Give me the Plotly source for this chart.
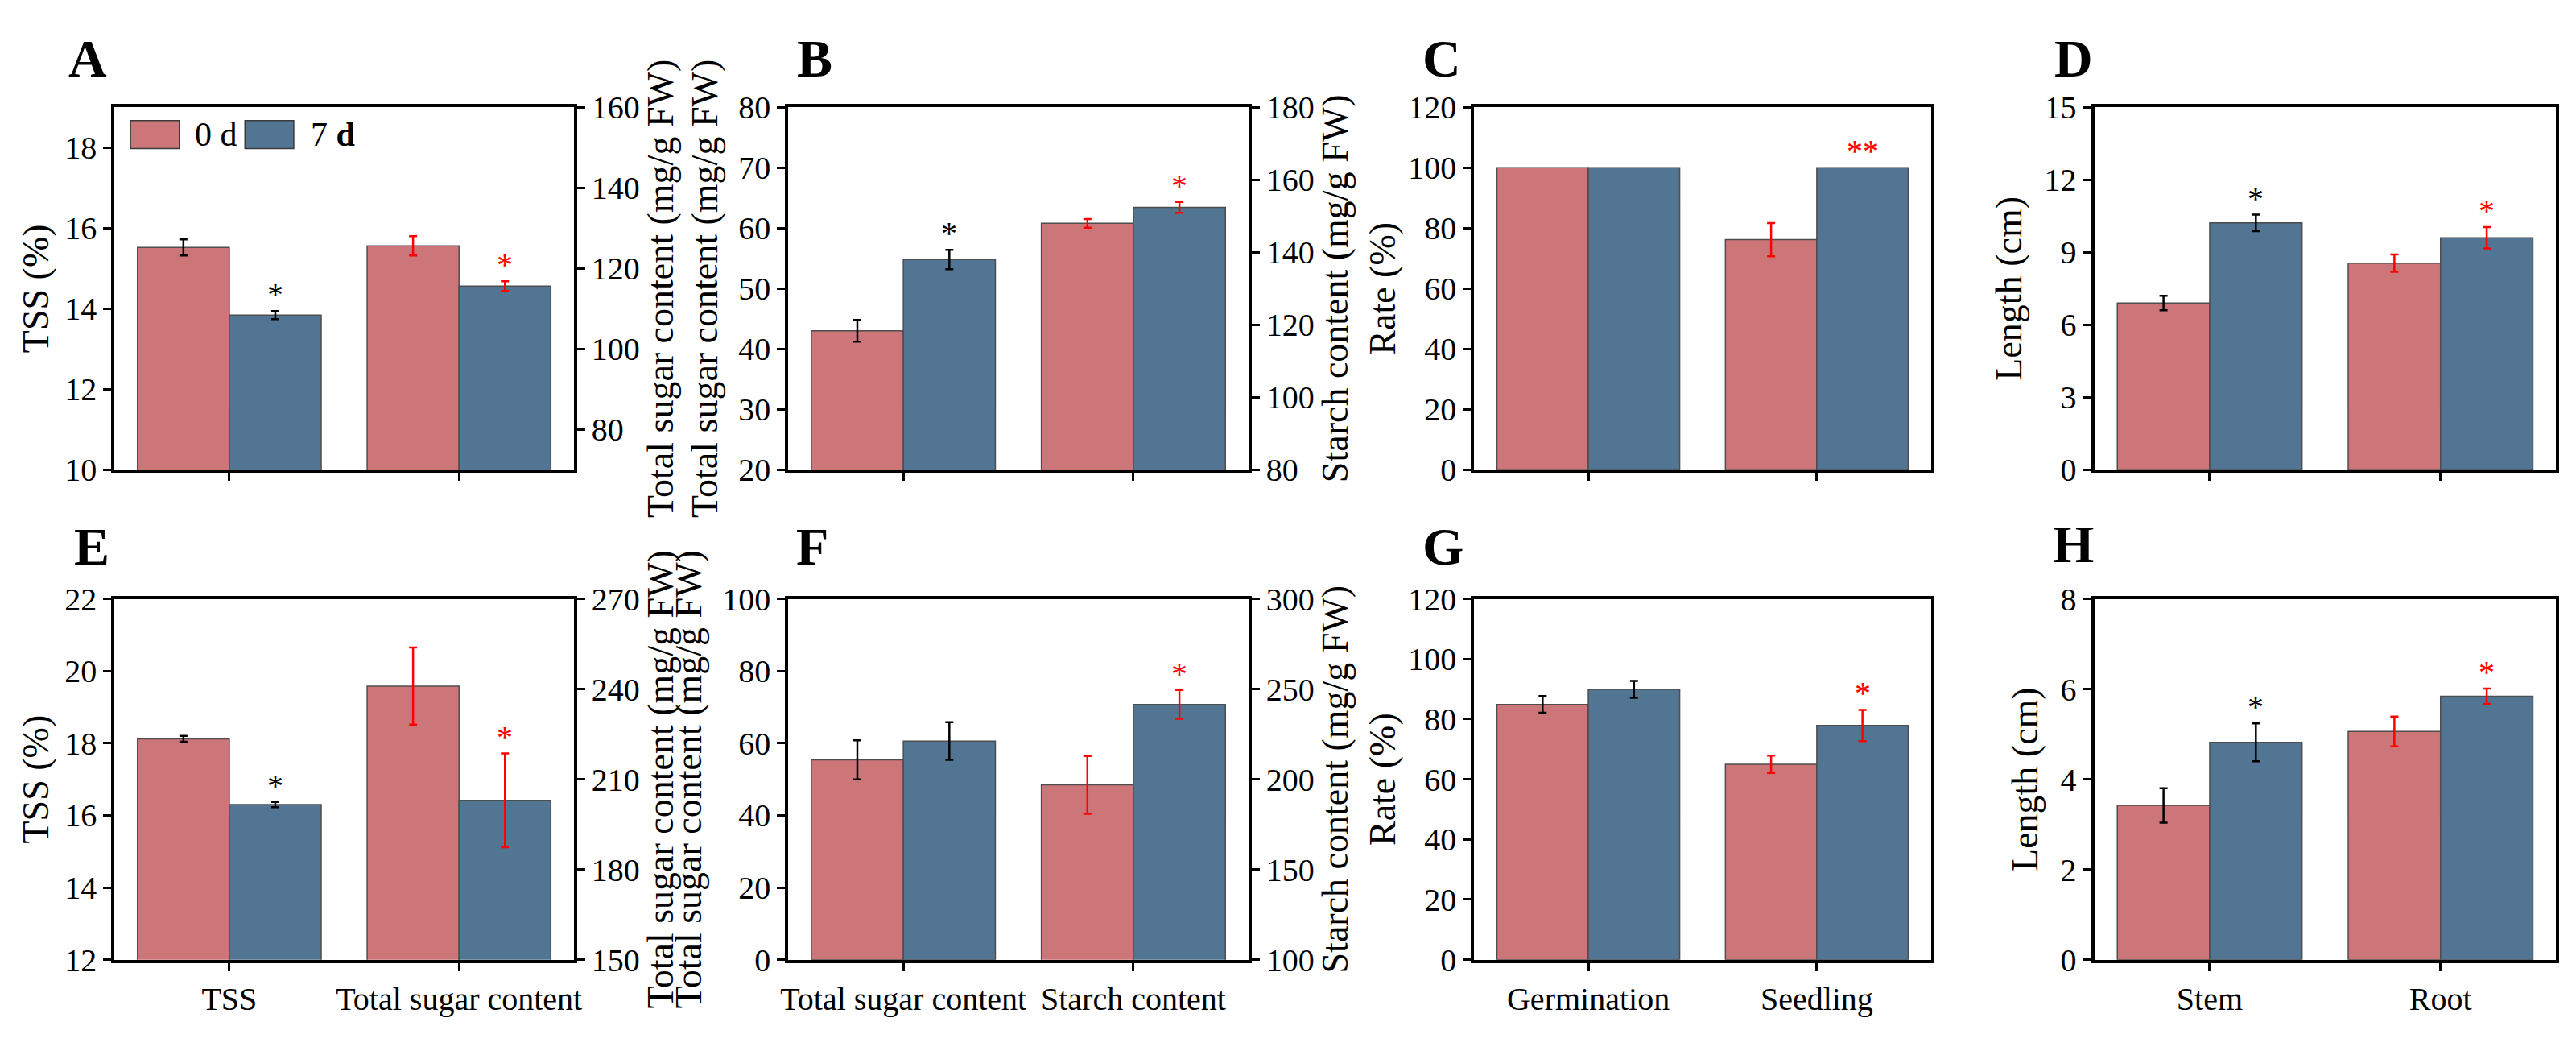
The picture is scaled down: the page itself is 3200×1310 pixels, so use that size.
import plotly.graph_objects as go

W, H = 3200, 1310
FONT = "Liberation Serif"

series = ["0 d", "7 d"]
bar_colors = ["#CC767A", "#517592"]
err_colors = ["black", "red"]  # first category black, second category red

# ---------------- data ----------------
A_cats = ["TSS", "Total sugar content"]
A_0d = [15.52, 125.6]
A_0d_err = [0.20, 2.4]
A_7d = [13.84, 115.6]
A_7d_err = [0.10, 1.2]
A_marks = ["*", "*"]

B_cats = ["Total sugar content", "Starch content"]
B_0d = [43.0, 148.0]
B_0d_err = [1.8, 1.2]
B_7d = [54.8, 152.4]
B_7d_err = [1.6, 1.5]
B_marks = ["*", "*"]

C_cats = ["Germination", "Seedling"]
C_0d = [100.0, 76.2]
C_0d_err = [None, 5.5]
C_7d = [100.0, 100.0]
C_7d_err = [None, None]
C_marks = ["", "**"]

D_cats = ["Stem", "Root"]
D_0d = [6.9, 8.55]
D_0d_err = [0.30, 0.36]
D_7d = [10.22, 9.6]
D_7d_err = [0.34, 0.44]
D_marks = ["*", "*"]

E_cats = ["TSS", "Total sugar content"]
E_0d = [18.12, 241.0]
E_0d_err = [0.08, 12.8]
E_7d = [16.30, 203.0]
E_7d_err = [0.07, 15.6]
E_marks = ["*", "*"]

F_cats = ["Total sugar content", "Starch content"]
F_0d = [55.4, 196.9]
F_0d_err = [5.4, 16.0]
F_7d = [60.6, 241.5]
F_7d_err = [5.2, 8.0]
F_marks = ["", "*"]

G_cats = ["Germination", "Seedling"]
G_0d = [84.9, 65.0]
G_0d_err = [2.8, 2.9]
G_7d = [89.9, 77.9]
G_7d_err = [2.8, 5.2]
G_marks = ["", "*"]

H_cats = ["Stem", "Root"]
H_0d = [3.42, 5.06]
H_0d_err = [0.38, 0.33]
H_7d = [4.82, 5.84]
H_7d_err = [0.42, 0.17]
H_marks = ["*", "*"]

TITLE_TSS = "TSS (%)"
TITLE_SUGAR = "Total sugar content (mg/g FW)"
TITLE_STARCH = "Starch content (mg/g FW)"
TITLE_RATE = "Rate (%)"
TITLE_LEN = "Length (cm)"

panels = [
    dict(letter="A", cats=A_cats, v=[A_0d, A_7d], e=[A_0d_err, A_7d_err], marks=A_marks,
         yt=TITLE_TSS, yr=[10, 19], dt=2, y2t=TITLE_SUGAR, y2r=[70, 160], dt2=20),
    dict(letter="B", cats=B_cats, v=[B_0d, B_7d], e=[B_0d_err, B_7d_err], marks=B_marks,
         yt=TITLE_SUGAR, yr=[20, 80], dt=10, y2t=TITLE_STARCH, y2r=[80, 180], dt2=20),
    dict(letter="C", cats=C_cats, v=[C_0d, C_7d], e=[C_0d_err, C_7d_err], marks=C_marks,
         yt=TITLE_RATE, yr=[0, 120], dt=20),
    dict(letter="D", cats=D_cats, v=[D_0d, D_7d], e=[D_0d_err, D_7d_err], marks=D_marks,
         yt=TITLE_LEN, yr=[0, 15], dt=3),
    dict(letter="E", cats=E_cats, v=[E_0d, E_7d], e=[E_0d_err, E_7d_err], marks=E_marks,
         yt=TITLE_TSS, yr=[12, 22], dt=2, y2t=TITLE_SUGAR, y2r=[150, 270], dt2=30),
    dict(letter="F", cats=F_cats, v=[F_0d, F_7d], e=[F_0d_err, F_7d_err], marks=F_marks,
         yt=TITLE_SUGAR, yr=[0, 100], dt=20, y2t=TITLE_STARCH, y2r=[100, 300], dt2=50),
    dict(letter="G", cats=G_cats, v=[G_0d, G_7d], e=[G_0d_err, G_7d_err], marks=G_marks,
         yt=TITLE_RATE, yr=[0, 120], dt=20),
    dict(letter="H", cats=H_cats, v=[H_0d, H_7d], e=[H_0d_err, H_7d_err], marks=H_marks,
         yt=TITLE_LEN, yr=[0, 8], dt=2),
]

# ---------------- layout geometry (pixels) ----------------
col_px = [(126, 700), (968, 1543), (1825, 2396), (2600, 3177)]
row_px = [(107, 573), (739, 1203)]
letter_pos = [(66, 44), (977, 44), (1758, 44), (2548, 44)]
letter_pos2 = [(73, 672), (976, 672), (1758, 672), (2546, 668)]
title_standoff = [(6, 0), (12, 8), (2, None), (14, None)]

TICKFONT = dict(family=FONT, size=40, color="black")
TITLEFONT = dict(family=FONT, size=46, color="black")

fig = go.Figure()
layout = dict(width=W, height=H, margin=dict(l=0, r=0, t=0, b=0),
              font=dict(family=FONT, color="black"),
              paper_bgcolor="white", plot_bgcolor="white", barmode="overlay",
              showlegend=False, annotations=[], shapes=[])

sec_idx = 9
for i, p in enumerate(panels):
    r, c = divmod(i, 4)
    x0, x1 = col_px[c]
    y0, y1 = row_px[r]
    xd = [x0 / W, x1 / W]
    yd = [1 - y1 / H, 1 - y0 / H]
    n = i + 1
    xa, ya = f"x{n}", f"y{n}"
    dual = "y2t" in p
    ya2 = None
    if dual:
        ya2 = f"y{sec_idx}"
        layout[f"yaxis{sec_idx}"] = dict(
            range=p["y2r"], dtick=p["dt2"], tick0=0, overlaying=ya, side="right",
            anchor=xa, showline=True, linewidth=4, linecolor="black", ticks="outside",
            ticklen=10, tickwidth=3, tickcolor="black", showgrid=False, zeroline=False,
            tickfont=TICKFONT, title=dict(text=p["y2t"], font=TITLEFONT,
                                          standoff=title_standoff[c][1]))
        sec_idx += 1
    layout[f"xaxis{n}"] = dict(
        domain=xd, anchor=ya, type="category", categoryorder="array",
        categoryarray=p["cats"], range=[-0.5, 1.5], showline=True, linewidth=4,
        linecolor="black", mirror=True, ticks="outside", ticklen=10, tickwidth=3,
        tickcolor="black", showticklabels=(r == 1), tickfont=TICKFONT,
        showgrid=False, zeroline=False)
    layout[f"yaxis{n}"] = dict(
        domain=yd, anchor=xa, range=p["yr"], dtick=p["dt"], tick0=0,
        showline=True, linewidth=4, linecolor="black", mirror=(not dual),
        ticks="outside", ticklen=10, tickwidth=3, tickcolor="black",
        showgrid=False, zeroline=False, tickfont=TICKFONT,
        title=dict(text=p["yt"], font=TITLEFONT, standoff=title_standoff[c][0]))

    for k, cat in enumerate(p["cats"]):
        yref = ya2 if (dual and k == 1) else ya
        for s in range(2):
            val = p["v"][s][k]
            err = p["e"][s][k]
            fig.add_trace(go.Bar(
                x=[cat], y=[val], width=[0.4], offset=[-0.4 if s == 0 else 0.0],
                name=series[s], xaxis=xa, yaxis=yref,
                marker=dict(color=bar_colors[s], line=dict(color="#4d4d4d", width=1.5)),
                error_y=dict(type="data", array=[err if err is not None else 0],
                             visible=err is not None, color=err_colors[k],
                             thickness=2.5, width=5),
                showlegend=False, hoverinfo="skip"))
        mark = p["marks"][k]
        if mark:
            val = p["v"][1][k]
            err = p["e"][1][k] or 0
            layout["annotations"].append(dict(
                x=k + 0.2, y=val + err, xref=xa, yref=yref, text=mark, showarrow=False,
                xanchor="center", yanchor="bottom", yshift=-4,
                font=dict(family=FONT, size=40, color=err_colors[k])))

    lx, ly = (letter_pos if r == 0 else letter_pos2)[c]
    layout["annotations"].append(dict(
        x=lx / W, y=1 - ly / H, xref="paper", yref="paper", text=f"<b>{p['letter']}</b>",
        showarrow=False, xanchor="left", yanchor="middle",
        font=dict(family=FONT, size=66, color="black")))

# legend (panel A)
leg_boxes = [(146, 207), (289, 350)]
leg_text_x = [224, 369]
leg_y = (124, 160)
leg_labels = ["0 d", "7 <b>d</b>"]
for s in range(2):
    bx0, bx1 = leg_boxes[s]
    layout["shapes"].append(dict(
        type="rect", xref="paper", yref="paper", x0=bx0 / W, x1=bx1 / W,
        y0=1 - leg_y[1] / H, y1=1 - leg_y[0] / H, fillcolor=bar_colors[s],
        line=dict(color="#3a3a3a", width=1.5)))
    layout["annotations"].append(dict(
        x=leg_text_x[s] / W, y=1 - (sum(leg_y) / 2) / H, xref="paper", yref="paper",
        text=leg_labels[s], showarrow=False, xanchor="left", yanchor="middle",
        font=dict(family=FONT, size=42, color="black")))

fig.update_layout(**layout)
fig.write_html("out.html")
